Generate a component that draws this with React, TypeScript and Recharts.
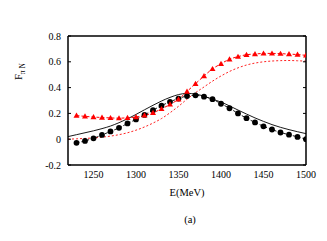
import React from "react";
import { ComposedChart, Line, XAxis, YAxis, Label } from "recharts";

// energies of the data points (MeV)
const pointE = [
   1230, 1240, 1250, 1260, 1270, 1280, 1290, 1300, 1310, 1320, 1330, 1340, 1350, 1360,
   1370, 1380, 1390, 1400, 1410, 1420, 1430, 1440, 1450, 1460, 1470, 1480, 1490, 1500,
];
const circleF = [
   -0.028, -0.013, 0.007, 0.033, 0.06, 0.088, 0.122, 0.153, 0.188, 0.225, 0.26, 0.29, 0.315, 0.335,
   0.34, 0.33, 0.31, 0.275, 0.24, 0.2, 0.163, 0.13, 0.1, 0.075, 0.052, 0.035, 0.018, 0.0,
];
const triangleF = [
   0.183, 0.177, 0.172, 0.168, 0.165, 0.163, 0.166, 0.172, 0.185, 0.205, 0.235, 0.27, 0.31, 0.37,
   0.43, 0.49, 0.545, 0.585, 0.62, 0.64, 0.655, 0.66, 0.665, 0.665, 0.663, 0.66, 0.656, 0.65,
];

// theory curves
const curveE = [
   1220, 1230, 1240, 1250, 1260, 1270, 1280, 1290, 1300, 1310, 1320, 1330, 1340, 1350, 1360,
   1370, 1380, 1390, 1400, 1410, 1420, 1430, 1440, 1450, 1460, 1470, 1480, 1490, 1500,
];
const solidF = [
   0.02, 0.035, 0.05, 0.065, 0.082, 0.102, 0.128, 0.158, 0.192, 0.228, 0.263, 0.296, 0.324, 0.346,
   0.355, 0.35, 0.333, 0.31, 0.288, 0.258, 0.226, 0.195, 0.165, 0.138, 0.113, 0.092, 0.074, 0.058,
   0.043,
];
const dottedF = [
   0.0, 0.003, 0.006, 0.01, 0.016, 0.024, 0.035, 0.05, 0.07, 0.095, 0.125, 0.16, 0.205, 0.255,
   0.31, 0.36, 0.405, 0.45, 0.49, 0.525, 0.553, 0.575, 0.59, 0.6, 0.606, 0.609, 0.61, 0.608,
   0.605,
];

const xTicks = [1250, 1300, 1350, 1400, 1450, 1500];
const yTicks = [-0.2, 0, 0.2, 0.4, 0.6, 0.8];

const circleData = pointE.map((e, i) => ({ e, f: circleF[i] }));
const triangleData = pointE.map((e, i) => ({ e, f: triangleF[i] }));
const solidData = curveE.map((e, i) => ({ e, f: solidF[i] }));
const dottedData = curveE.map((e, i) => ({ e, f: dottedF[i] }));

const font = "Liberation Serif";
const tickStyle = { fontFamily: font, fontSize: 10, fill: "#000" };

function Triangle(props: any) {
   const { cx, cy, index } = props;
   if (cx == null || cy == null) return null;
   return (
      <polygon
         key={index}
         points={`${cx},${cy - 3} ${cx - 3},${cy + 2.2} ${cx + 3},${cy + 2.2}`}
         fill="#ff0000"
      />
   );
}

function Circle(props: any) {
   const { cx, cy, index } = props;
   if (cx == null || cy == null) return null;
   return <circle key={index} cx={cx} cy={cy} r={2.9} fill="#000" />;
}

function YLabel(props: any) {
   const { viewBox } = props;
   const y = viewBox.y + viewBox.height / 2 - 29;
   const x = 22;
   return (
      <text
         x={x}
         y={y}
         transform={`rotate(-90 ${x} ${y})`}
         textAnchor="middle"
         fontFamily={font}
         fontSize={10.5}
         fill="#000"
      >
         F
         <tspan fontSize={7.5} dy={3}>
            π N
         </tspan>
      </text>
   );
}

const frame = { stroke: "#000", strokeWidth: 1.5 };
const empty = () => "";

export default function App() {
   return (
      <div
         style={{
            position: "absolute",
            left: 0,
            top: 0,
            width: 327,
            height: 241,
            background: "#fff",
            fontFamily: font,
         }}
      >
         <ComposedChart
            width={327}
            height={241}
            margin={{ top: 36, right: 21, left: 0, bottom: 0 }}
            style={{ fontFamily: font }}
         >
            <XAxis
               xAxisId="b"
               dataKey="e"
               type="number"
               domain={[1220, 1500]}
               allowDataOverflow
               ticks={xTicks}
               height={76}
               tickLine={false}
               axisLine={false}
               tickSize={4}
               tickMargin={2}
               tick={tickStyle}
            >
               <Label
                  value="E(MeV)"
                  position="insideTop"
                  offset={24}
                  style={{ fontFamily: font, fontSize: 10.5, fill: "#000" }}
               />
            </XAxis>
            <XAxis
               xAxisId="bm"
               type="number"
               domain={[1220, 1500]}
               allowDataOverflow
               ticks={xTicks}
               mirror
               tickSize={3}
               tickFormatter={empty}
               axisLine={frame}
               tickLine={{ stroke: "#000" }}
            />
            <XAxis
               xAxisId="tm"
               orientation="top"
               type="number"
               domain={[1220, 1500]}
               allowDataOverflow
               ticks={xTicks}
               mirror
               tickSize={3}
               tickFormatter={empty}
               axisLine={frame}
               tickLine={{ stroke: "#000" }}
            />
            <YAxis
               yAxisId="l"
               type="number"
               domain={[-0.2, 0.8]}
               allowDataOverflow
               ticks={yTicks}
               width={68}
               tickLine={false}
               axisLine={false}
               tickSize={5}
               tickMargin={2}
               tick={tickStyle}
               label={<YLabel />}
            />
            <YAxis
               yAxisId="lm"
               type="number"
               domain={[-0.2, 0.8]}
               allowDataOverflow
               ticks={yTicks}
               mirror
               tickSize={3}
               tickFormatter={empty}
               axisLine={frame}
               tickLine={{ stroke: "#000" }}
            />
            <YAxis
               yAxisId="rm"
               orientation="right"
               type="number"
               domain={[-0.2, 0.8]}
               allowDataOverflow
               ticks={yTicks}
               mirror
               tickSize={3}
               tickFormatter={empty}
               axisLine={frame}
               tickLine={{ stroke: "#000" }}
            />
            <Line
               xAxisId="b"
               yAxisId="l"
               data={dottedData}
               dataKey="f"
               stroke="#ff2020"
               strokeWidth={1}
               strokeDasharray="2 2"
               dot={false}
               isAnimationActive={false}
               type="monotone"
            />
            <Line
               xAxisId="b"
               yAxisId="l"
               data={solidData}
               dataKey="f"
               stroke="#000"
               strokeWidth={0.9}
               dot={false}
               isAnimationActive={false}
               type="monotone"
            />
            <Line
               xAxisId="b"
               yAxisId="l"
               data={circleData}
               dataKey="f"
               stroke="#000"
               strokeWidth={0.9}
               strokeDasharray="3 2"
               dot={<Circle />}
               isAnimationActive={false}
               type="monotone"
            />
            <Line
               xAxisId="b"
               yAxisId="l"
               data={triangleData}
               dataKey="f"
               stroke="#ff0000"
               strokeWidth={1}
               strokeDasharray="3 2"
               dot={<Triangle />}
               isAnimationActive={false}
               type="monotone"
            />
         </ComposedChart>
         <div
            style={{
               position: "absolute",
               left: 0,
               width: 327,
               top: 214,
               textAlign: "center",
               fontFamily: font,
               fontSize: 10.5,
               paddingLeft: 53,
               boxSizing: "border-box",
            }}
         >
            (a)
         </div>
      </div>
   );
}
